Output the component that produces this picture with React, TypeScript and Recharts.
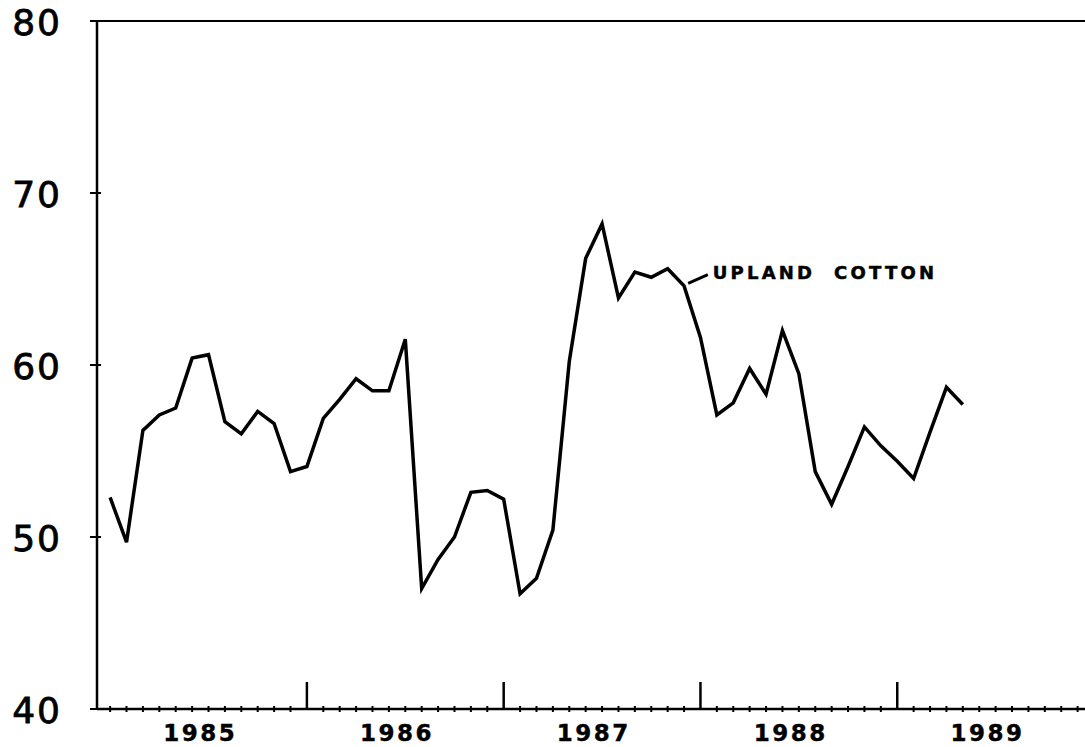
import React from 'react';
import {
  LineChart,
  Line,
  XAxis,
  YAxis,
  ReferenceLine,
  ReferenceDot
} from 'recharts';

// monthly index 0 = Jan 1985
const years = [1985, 1986, 1987, 1988, 1989];
const yTicks = [40, 50, 60, 70, 80];
const prices = [
  52.3, 49.7, 56.2, 57.1, 57.5, 60.4, 60.6, 56.7, 56.0, 57.3, 56.6, 53.8,
  54.1, 56.9, 58.0, 59.2, 58.5, 58.5, 61.5, 47.0, 48.7, 50.0, 52.6, 52.7,
  52.2, 46.7, 47.6, 50.4, 60.2, 66.2, 68.2, 63.9, 65.4, 65.1, 65.6, 64.6,
  61.6, 57.1, 57.8, 59.8, 58.3, 62.0, 59.5, 53.8, 51.9, 54.1, 56.4, 55.3,
  54.4, 53.4, 56.1, 58.7, 57.7
];
const seriesLabel = 'UPLAND  COTTON';

const chartData = prices.map((price, i) => ({ month: i, price }));
const monthTicks = Array.from({ length: years.length * 12 }, (_, i) => i);
const yearTicks = years.map((_, i) => i * 12 + 5.5);

const MonthTick = (props: any) => {
  const { x, y, payload } = props;
  const major = payload.value > 0 && payload.value % 12 === 0;
  return major ? (
    <line x1={x} x2={x} y1={y - 27} y2={y + 1} stroke="#000" strokeWidth={2.5} />
  ) : (
    <line x1={x} x2={x} y1={y - 3} y2={y + 3} stroke="#000" strokeWidth={2} />
  );
};

const YearTick = (props: any) => {
  const { x, y, payload } = props;
  const year = years[Math.round((payload.value - 5.5) / 12)];
  return (
    <text
      x={x}
      y={y + 31}
      textAnchor="middle"
      fontFamily="DejaVu Sans"
      fontWeight="bold"
      fontSize={23}
      letterSpacing={2.5}
      stroke="#000"
      strokeWidth={0.4}
      fill="#000"
    >
      {year}
    </text>
  );
};

const ValueTick = (props: any) => {
  const { x, y, payload } = props;
  return (
    <g>
      <line x1={x - 7} x2={x + 4} y1={y} y2={y} stroke="#000" strokeWidth={2} />
      <text
        x={x - 35}
        y={y + 14}
        textAnchor="end"
        fontFamily="DejaVu Sans"
        fontSize={36}
        letterSpacing={2}
        stroke="#000"
        strokeWidth={0.8}
        fill="#000"
      >
        {payload.value}
      </text>
    </g>
  );
};

export default function App() {
  return (
    <div style={{ position: 'absolute', left: 0, top: 0, background: '#fff' }}>
      <LineChart
        width={1085}
        height={747}
        data={chartData}
        margin={{ top: 21, right: 0, bottom: 36, left: 96 }}
      >
        <XAxis
          dataKey="month"
          type="number"
          domain={[-0.8, 59.45]}
          allowDataOverflow
          ticks={monthTicks}
          interval={0}
          height={1}
          tickSize={0}
          tickMargin={0}
          tickLine={false}
          axisLine={{ stroke: '#000', strokeWidth: 2.5 }}
          tick={<MonthTick />}
        />
        <XAxis
          xAxisId="years"
          dataKey="month"
          type="number"
          domain={[-0.8, 59.45]}
          allowDataOverflow
          ticks={yearTicks}
          interval={0}
          height={1}
          tickSize={0}
          tickMargin={0}
          tickLine={false}
          axisLine={false}
          tick={<YearTick />}
        />
        <YAxis
          type="number"
          domain={[40, 80]}
          ticks={yTicks}
          interval={0}
          width={1}
          tickSize={0}
          tickMargin={0}
          tickLine={false}
          axisLine={{ stroke: '#000', strokeWidth: 2.5 }}
          tick={<ValueTick />}
        />
        <ReferenceLine y={80} stroke="#000" strokeWidth={2} />
        <ReferenceLine
          segment={[{ x: 35.25, y: 64.75 }, { x: 36.45, y: 65.25 }]}
          stroke="#000"
          strokeWidth={3}
        />
        <ReferenceDot
          x={36.75}
          y={65.4}
          r={0}
          fill="none"
          stroke="none"
          label={(p: any) => (
            <text
              x={p.viewBox.x}
              y={p.viewBox.y + 7}
              fontFamily="DejaVu Sans"
              fontWeight="bold"
              fontSize={18}
              letterSpacing={3.2}
              stroke="#000"
              strokeWidth={0.5}
              style={{ whiteSpace: 'pre' }}
              fill="#000"
            >
              {seriesLabel}
            </text>
          )}
        />
        <Line
          type="linear"
          dataKey="price"
          stroke="#000"
          strokeWidth={3.5}
          dot={false}
          isAnimationActive={false}
        />
      </LineChart>
    </div>
  );
}
